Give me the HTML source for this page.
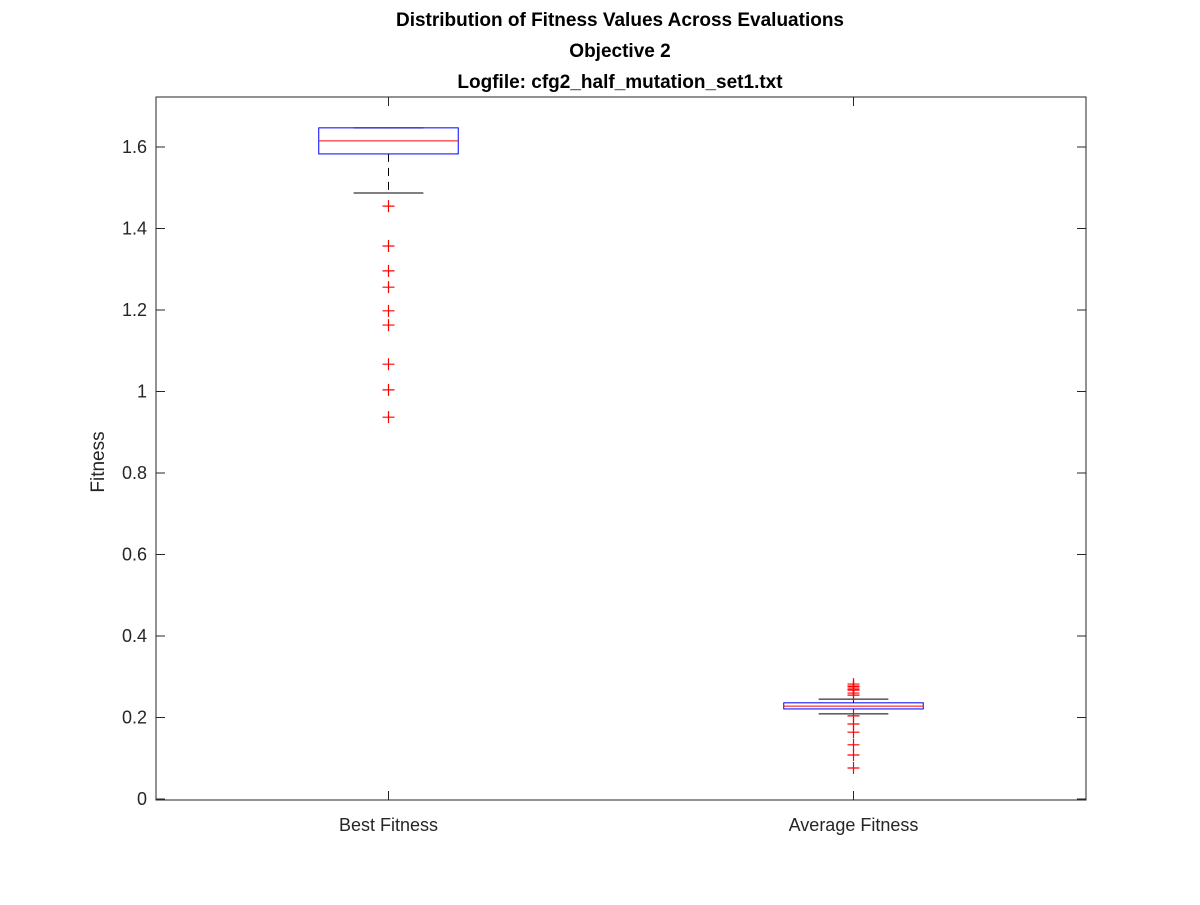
<!DOCTYPE html>
<html><head><meta charset="utf-8"><style>
body{margin:0;background:#fff}
svg text{font-family:"Liberation Sans",Arial,sans-serif;fill:#262626}
</style></head><body>
<svg id="chart" width="1200" height="900" xmlns="http://www.w3.org/2000/svg">
<rect width="1200" height="900" fill="#fff"/>
<g>
<text x="620" y="26" text-anchor="middle" font-size="19" font-weight="bold" style="fill:#000">Distribution of Fitness Values Across Evaluations</text>
<text x="620" y="57" text-anchor="middle" font-size="19" font-weight="bold" style="fill:#000">Objective 2</text>
<text x="620" y="88" text-anchor="middle" font-size="19" font-weight="bold" style="fill:#000">Logfile: cfg2_half_mutation_set1.txt</text>
</g>
<text transform="translate(104,462) rotate(-90)" text-anchor="middle" font-size="19">Fitness</text>
<g id="plot"></g>
</svg>
<script>
const categories = ["Best Fitness", "Average Fitness"];
const q1 = [1.583, 0.221];
const medians = [1.615, 0.228];
const q3 = [1.647, 0.236];
const whiskerLow = [1.487, 0.209];
const whiskerHigh = [1.647, 0.245];
const outliersBest = [1.455, 1.357, 1.296, 1.256, 1.198, 1.163, 1.067, 1.004, 0.937];
const outliersAvg = [0.282, 0.277, 0.275, 0.270, 0.267, 0.260, 0.255, 0.204, 0.184, 0.164, 0.133, 0.108, 0.076];
const yTicks = [0, 0.2, 0.4, 0.6, 0.8, 1, 1.2, 1.4, 1.6];
const yTickLabels = ["0", "0.2", "0.4", "0.6", "0.8", "1", "1.2", "1.4", "1.6"];

const L = 156, R = 1086, T = 97, B = 800;
const Y0PX = 799, PXU = 407.5;
const y = v => Y0PX - v * PXU;
const x = i => L + (R - L) * ((i + 1) - 0.5) / 2;
const ux = (R - L) / 2;
const NS = "http://www.w3.org/2000/svg";
const g = document.getElementById("plot");
function mk(tag, attrs, parent) {
  const e = document.createElementNS(NS, tag);
  for (const k in attrs) e.setAttribute(k, attrs[k]);
  (parent || g).appendChild(e);
  return e;
}
// axes box
const box = mk("rect", {x: L, y: T, width: R - L, height: B - T, fill: "none", stroke: "#262626", "stroke-width": 1});


yTicks.forEach((v, i) => {
  const yy = y(v);
  const t1 = mk("line", {x1: L, x2: L + 9, y1: yy, y2: yy, stroke: "#262626"});
  
  
  mk("line", {x1: R, x2: R - 9, y1: yy, y2: yy, stroke: "#262626"});
  const tx = mk("text", {x: L - 9, y: yy + 6, "text-anchor": "end", "font-size": 18});
  tx.textContent = yTickLabels[i];
  
  
});
const outs = [outliersBest, outliersAvg];
categories.forEach((c, i) => {
  const cx = x(i);
  mk("line", {x1: cx, x2: cx, y1: B, y2: B - 9, stroke: "#262626"});
  mk("line", {x1: cx, x2: cx, y1: T, y2: T + 9, stroke: "#262626"});
  const tl = mk("text", {x: cx, y: 831, "text-anchor": "middle", "font-size": 18});
  tl.textContent = c;
  
  
  const grp = mk("g", {});
  
  
  const hw = 0.15 * ux, cw = 0.075 * ux;
  // whiskers
  mk("line", {x1: cx, x2: cx, y1: y(q1[i]), y2: y(whiskerLow[i]), stroke: "#000", "stroke-dasharray": "8,6"}, grp);
  mk("line", {x1: cx, x2: cx, y1: y(q3[i]), y2: y(whiskerHigh[i]), stroke: "#000", "stroke-dasharray": "8,6"}, grp);
  mk("line", {x1: cx - cw, x2: cx + cw, y1: y(whiskerLow[i]), y2: y(whiskerLow[i]), stroke: "#000"}, grp);
  mk("line", {x1: cx - cw, x2: cx + cw, y1: y(whiskerHigh[i]), y2: y(whiskerHigh[i]), stroke: "#000"}, grp);
  mk("rect", {x: cx - hw, y: y(q3[i]), width: 2 * hw, height: Math.max(1, y(q1[i]) - y(q3[i])), fill: "none", stroke: "#0000ff"}, grp);
  mk("line", {x1: cx - hw, x2: cx + hw, y1: y(medians[i]), y2: y(medians[i]), stroke: "#ff0000"}, grp);
  outs[i].forEach(v => {
    const o = mk("path", {d: `M${cx - 6},${y(v)}h12M${cx},${y(v) - 6}v12`, stroke: "#ff0000", "stroke-width": 1.2}, grp);
    
    
  });
});
</script>
</body></html>
